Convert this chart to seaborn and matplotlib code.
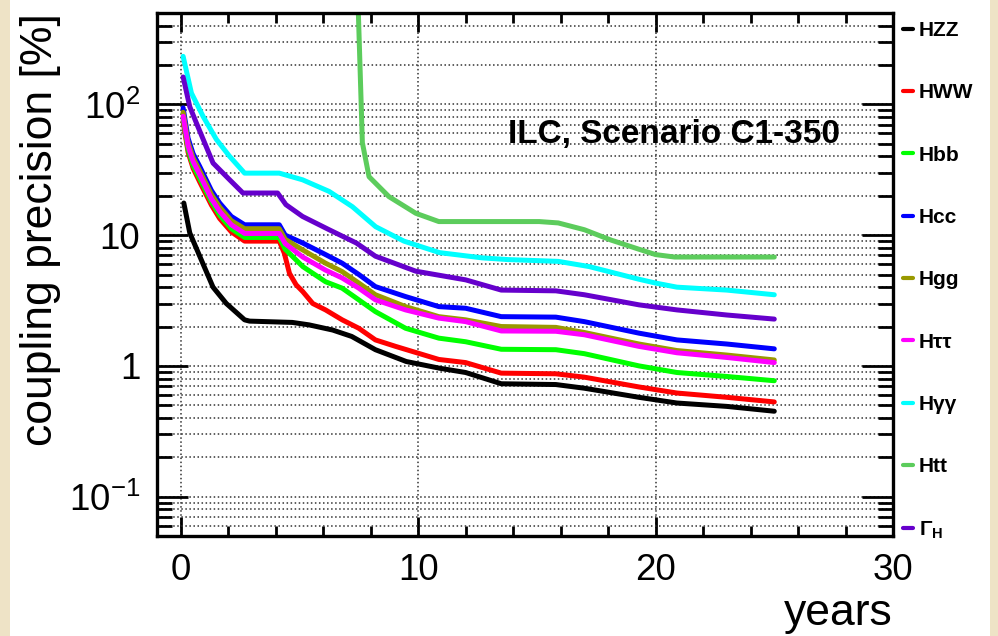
import numpy as np
import pandas as pd
import seaborn as sns
import matplotlib.pyplot as plt
from matplotlib import ticker
from matplotlib.patches import Rectangle

# values (years, coupling precision in %)
couplings = ["HZZ", "HWW", "Hbb", "Hcc", "Hgg", "Hττ", "Hγγ", "Htt", "Γ$_{\\mathbf{H}}$"]
colors = ["#000000", "#ff0000", "#00ff00", "#0000ff", "#999900", "#ff00ff", "#00ffff", "#5ccc5c", "#6600cc"]

hzz_t = [0.13, 0.38, 0.8, 1.36, 1.92, 2.69, 2.9, 4.7, 5.4, 6.4, 7.2, 8.2, 9.5, 10.9, 12.0, 13.5, 15.8, 17.0, 19.3, 20.9, 23.0, 25.0]
hzz = [17.6, 10.4, 6.9, 4.0, 3.0, 2.25, 2.2, 2.15, 2.06, 1.88, 1.68, 1.33, 1.08, 0.96, 0.89, 0.73, 0.72, 0.675, 0.575, 0.52, 0.49, 0.45]

bundle_t = [0.1, 0.31, 0.52, 0.8, 1.29, 1.64, 2.13, 2.69, 4.15]
late_t = [4.4, 5.14, 6.1, 6.8, 7.5, 8.2, 9.47, 10.87, 12.0, 13.5, 15.8, 17.0, 19.3, 20.9, 23.0, 25.0]

hww_t = bundle_t + [4.36, 4.58, 4.86, 5.14, 5.56, 6.1, 6.8, 7.5, 8.2, 9.05, 10.87, 12.0, 13.5, 15.8, 17.0, 19.3, 20.9, 23.0, 25.0]
hww = [74, 43, 32.5, 25.5, 17, 13.4, 10.6, 9.0, 9.0,
       7.3, 5.1, 4.17, 3.7, 3.0, 2.68, 2.25, 1.94, 1.58, 1.41, 1.12, 1.06, 0.88, 0.87, 0.82, 0.69, 0.62, 0.575, 0.53]

hbb_t = bundle_t + late_t
hbb = [78, 45, 34, 27, 18, 14.2, 11.2, 9.6, 9.6,
       7.8, 5.75, 4.4, 3.93, 3.2, 2.6, 1.94, 1.63, 1.53, 1.34, 1.33, 1.24, 1.0, 0.89, 0.83, 0.77]

hcc_t = bundle_t + late_t
hcc = [94, 55, 42, 33.5, 22, 17.6, 13.9, 12, 12,
       10, 8.7, 7.1, 6.1, 5.0, 4.04, 3.39, 2.84, 2.76, 2.38, 2.36, 2.18, 1.78, 1.58, 1.47, 1.35]

hgg_t = bundle_t + late_t
hgg = [87, 51, 39, 31, 20.5, 16.4, 12.9, 11.2, 11.2,
       9.3, 7.7, 6.1, 5.26, 4.3, 3.5, 2.84, 2.38, 2.25, 2.0, 1.97, 1.8, 1.47, 1.31, 1.21, 1.11]

htautau_t = bundle_t + late_t
htautau = [81, 48, 36.5, 29, 19, 15.2, 12.0, 10.3, 10.3,
           8.6, 6.8, 5.4, 4.7, 3.93, 3.2, 2.68, 2.32, 2.18, 1.85, 1.84, 1.73, 1.41, 1.26, 1.16, 1.06]

hgaga_t = [0.1, 0.45, 0.94, 1.5, 2.06, 2.69, 4.15, 5.13, 6.25, 7.23, 8.21, 9.4, 10.9, 12.7, 13.8, 15.9, 17.2, 19.3, 20.0, 20.9, 23.0, 25.0]
hgaga = [233, 122, 81, 54, 40, 29.8, 29.8, 26.5, 21.6, 16.5, 11.6, 9.0, 7.35, 6.7, 6.5, 6.3, 5.75, 4.6, 4.3, 4.0, 3.8, 3.5]

htt_t = [7.43, 7.65, 7.93, 8.77, 9.9, 10.87, 15.1, 15.9, 17.0, 18.1, 19.3, 20.0, 20.8, 25.0]
htt = [1000, 51, 28, 19.7, 14.7, 12.7, 12.7, 12.4, 11.0, 9.2, 7.8, 7.1, 6.8, 6.8]

width_t = [0.1, 0.38, 0.66, 1.36, 2.06, 2.62, 4.08, 4.43, 5.13, 6.25, 7.4, 8.2, 9.9, 12.0, 13.5, 15.8, 17.0, 19.3, 20.9, 23.0, 25.0]
width = [162, 96, 72, 35.6, 26.5, 21, 21, 17.1, 13.9, 11, 8.7, 6.9, 5.3, 4.55, 3.8, 3.75, 3.5, 2.93, 2.68, 2.45, 2.28]

series = [(hzz_t, hzz), (hww_t, hww), (hbb_t, hbb), (hcc_t, hcc), (hgg_t, hgg),
          (htautau_t, htautau), (hgaga_t, hgaga), (htt_t, htt), (width_t, width)]

df = pd.concat([pd.DataFrame({"years": t, "precision": v, "coupling": name})
                for name, (t, v) in zip(couplings, series)], ignore_index=True)

sns.set_style("ticks")
plt.rcParams["font.family"] = ["Liberation Sans", "DejaVu Sans"]
plt.rcParams["mathtext.fontset"] = "custom"
plt.rcParams["mathtext.rm"] = "Liberation Sans"
plt.rcParams["mathtext.bf"] = "Liberation Sans:bold"
plt.rcParams["text.color"] = "black"
plt.rcParams["axes.labelcolor"] = "black"
plt.rcParams["xtick.color"] = "black"
plt.rcParams["ytick.color"] = "black"

fig = plt.figure(figsize=(9.98, 6.36), dpi=100, facecolor="#eee3c6")
fig.patches.append(Rectangle((10 / 998, 0), 980 / 998, 1, transform=fig.transFigure,
                             facecolor="white", edgecolor="none", zorder=-5))
ax = fig.add_axes([157 / 998, 1 - 536 / 636, 736 / 998, 523 / 636])
ax.set_facecolor("white")

sns.lineplot(data=df, x="years", y="precision", hue="coupling", palette=colors,
             estimator=None, sort=False, lw=3.6, ax=ax)

ax.set_yscale("log")
ax.set_xlim(-1, 30)
ax.set_ylim(0.05, 500)

ax.xaxis.set_major_locator(ticker.FixedLocator([0, 10, 20, 30]))
ax.xaxis.set_minor_locator(ticker.MultipleLocator(2))
ax.yaxis.set_major_locator(ticker.FixedLocator([0.1, 1, 10, 100]))
ax.yaxis.set_major_formatter(ticker.FixedFormatter(["$10^{-1}$", "1", "10", "$10^{2}$"]))
ax.yaxis.set_minor_locator(ticker.LogLocator(base=10, subs=np.arange(2, 10)))
ax.yaxis.set_minor_formatter(ticker.NullFormatter())

ax.tick_params(which="both", direction="in", top=True, right=True, width=2, labelsize=26.5, color="black")
ax.tick_params(axis="x", which="major", length=14, pad=12)
ax.tick_params(axis="x", which="minor", length=7)
ax.tick_params(axis="y", which="major", length=22, pad=12)
ax.tick_params(axis="y", which="minor", length=11)
for sp in ax.spines.values():
    sp.set_linewidth(2.4)
    sp.set_color("black")

ax.grid(which="major", axis="x", ls=":", color="#333333", lw=1.1)
ax.grid(which="both", axis="y", ls=":", color="#333333", lw=1.1)

ax.set_xlabel("years", fontsize=32, loc="right", labelpad=4)
ax.set_ylabel("coupling precision [%]", fontsize=32, loc="top", labelpad=6)

ax.text(0.477, 0.751, "ILC, Scenario C1-350", transform=ax.transAxes,
        fontsize=24, fontweight="bold", ha="left", va="baseline")

handles, labels = ax.get_legend_handles_labels()
leg = ax.legend(handles, labels, loc="upper left", bbox_to_anchor=(903 / 998, 1 - 21 / 636),
                bbox_transform=fig.transFigure, frameon=False, borderpad=0, borderaxespad=0,
                prop={"size": 15, "weight": "bold"}, handlelength=0.5, handletextpad=0.25,
                labelspacing=2.08)
for line in leg.get_lines():
    line.set_linewidth(3)

fig.savefig("out.png", dpi=100, facecolor=fig.get_facecolor())
